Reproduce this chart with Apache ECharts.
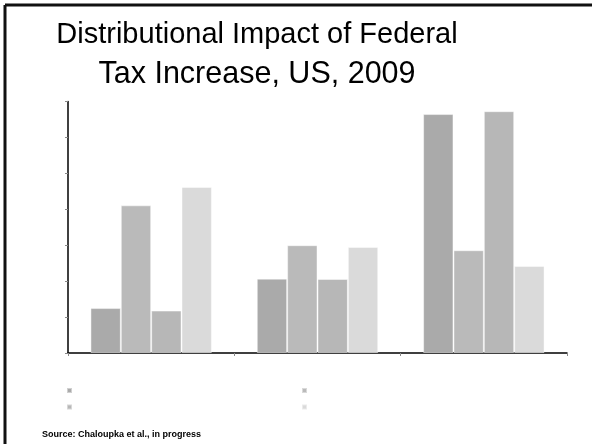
<!DOCTYPE html>
<html><head><meta charset="utf-8">
<script src="https://cdn.jsdelivr.net/npm/echarts@6/dist/echarts.min.js"></script>
<style>html,body{margin:0;padding:0;background:#fff}#c{width:592px;height:444px}</style>
</head><body><div id="c"></div>
<script>
const categories = ['Group 1', 'Group 2', 'Group 3'];
const seriesNames = ['Series 1', 'Series 2', 'Series 3', 'Series 4'];
const series1 = [1.25, 2.07, 6.65];
const series2 = [4.11, 3.0, 2.86];
const series3 = [1.18, 2.06, 6.73];
const series4 = [4.62, 2.95, 2.42];
const colors = ['#aaaaaa', '#bababa', '#b7b7b7', '#dadada'];
const values = [series1, series2, series3, series4];
const titleLine1 = 'Distributional Impact of Federal';
const titleLine2 = 'Tax Increase, US, 2009';

const chart = echarts.init(document.getElementById('c'), null, {renderer: 'canvas'});
chart.setOption({
  animation: false,
  backgroundColor: '#ffffff',
  title: {
    text: '{a|' + titleLine1 + '}\n{b|' + titleLine2 + '}',
    left: 252, top: 11, textAlign: 'center',
    textStyle: {
      fontFamily: 'Liberation Sans, Arial, sans-serif', fontWeight: 'normal', color: '#000',
      rich: {
        a: {fontFamily: 'Liberation Sans, Arial, sans-serif', fontSize: 29, lineHeight: 38, color: '#000', align: 'center'},
        b: {fontFamily: 'Liberation Sans, Arial, sans-serif', fontSize: 30.5, lineHeight: 41, color: '#000', align: 'center'}
      }
    }
  },
  legend: [
    {data: [seriesNames[0], seriesNames[2]], orient: 'vertical', left: 66, top: 387, padding: 0, itemWidth: 5, itemHeight: 5, itemGap: 9.5, icon: 'rect', formatter: () => '', textStyle: {fontSize: 1}, selectedMode: false},
    {data: [seriesNames[1], seriesNames[3]], orient: 'vertical', left: 301, top: 387, padding: 0, itemWidth: 5, itemHeight: 5, itemGap: 9.5, icon: 'rect', formatter: () => '', textStyle: {fontSize: 1}, selectedMode: false}
  ],
  grid: {left: 68, right: 25, top: 101.5, bottom: 91, containLabel: false},
  xAxis: {
    type: 'category', data: categories,
    axisLine: {lineStyle: {color: '#000', width: 1.5}},
    axisTick: {show: true, length: 3, lineStyle: {color: '#888'}},
    axisLabel: {show: false}
  },
  yAxis: {
    type: 'value', min: 0, max: 7, interval: 1,
    axisLine: {show: true, lineStyle: {color: '#000', width: 1.5}},
    axisTick: {show: true, length: 3, lineStyle: {color: '#888'}},
    axisLabel: {show: false},
    splitLine: {show: false}
  },
  series: values.map((v, i) => ({
    type: 'bar', name: seriesNames[i], data: v,
    barGap: '0%', barCategoryGap: '27%',
    itemStyle: {color: colors[i], borderColor: 'rgba(255,255,255,0.45)', borderWidth: 1}
  })),
  graphic: [
    {type: 'line', shape: {x1: 5, y1: 5, x2: 5, y2: 444}, style: {stroke: '#111', lineWidth: 3}},
    {type: 'line', shape: {x1: 5, y1: 5, x2: 592, y2: 5}, style: {stroke: '#111', lineWidth: 3}},
    {type: 'text', left: 42, top: 430, style: {text: 'Source: Chaloupka et al., in progress', fontFamily: 'Liberation Sans, Arial, sans-serif', fontSize: 9, fontWeight: 'bold', fill: '#000'}}
  ]
});
</script></body></html>
